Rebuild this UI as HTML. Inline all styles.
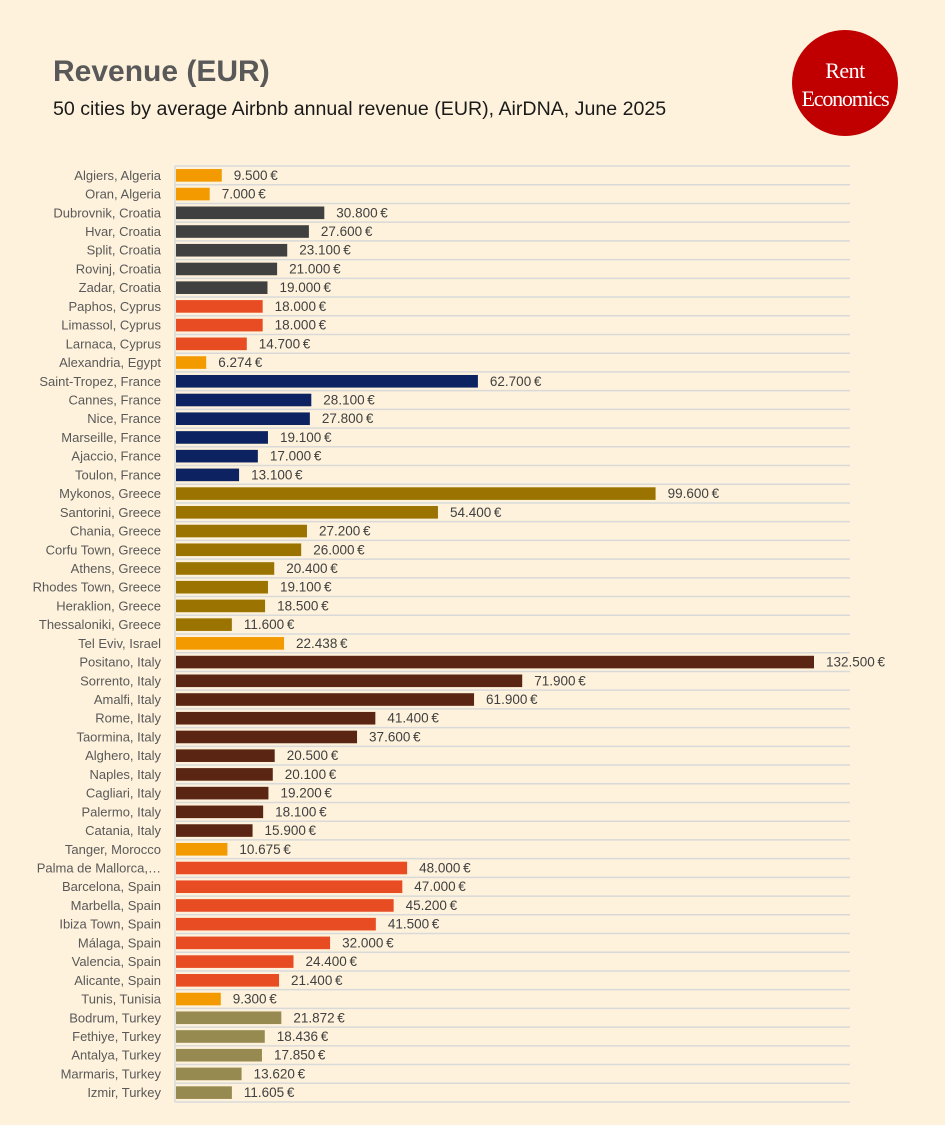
<!DOCTYPE html>
<html><head><meta charset="utf-8"><style>
body{margin:0;background:#FEF2DC;}
svg{display:block;font-family:"Liberation Sans",sans-serif;}
</style></head><body>
<svg id="chart" width="945" height="1125" viewBox="0 0 945 1125">
<rect width="945" height="1125" fill="#FEF2DC"/>
<text x="53" y="81" font-size="30" font-weight="bold" fill="#595959">Revenue (EUR)</text>
<text x="53" y="115" font-size="19.6" fill="#1a1a1a">50 cities by average Airbnb annual revenue (EUR), AirDNA, June 2025</text>
<g>
<circle cx="845" cy="83" r="53" fill="#C00000"/>
<text x="845" y="78" text-anchor="middle" font-family="Liberation Serif,serif" font-size="22" fill="#fff" letter-spacing="-0.5">Rent</text>
<text x="845" y="106" text-anchor="middle" font-family="Liberation Serif,serif" font-size="22" fill="#fff" letter-spacing="-1.2">Economics</text>
</g>
<g id="grid"></g><g id="bars"></g>
</svg>
<script>
const categories=["Algiers, Algeria","Oran, Algeria","Dubrovnik, Croatia","Hvar, Croatia","Split, Croatia","Rovinj, Croatia","Zadar, Croatia","Paphos, Cyprus","Limassol, Cyprus","Larnaca, Cyprus","Alexandria, Egypt","Saint-Tropez, France","Cannes, France","Nice, France","Marseille, France","Ajaccio, France","Toulon, France","Mykonos, Greece","Santorini, Greece","Chania, Greece","Corfu Town, Greece","Athens, Greece","Rhodes Town, Greece","Heraklion, Greece","Thessaloniki, Greece","Tel Eviv, Israel","Positano, Italy","Sorrento, Italy","Amalfi, Italy","Rome, Italy","Taormina, Italy","Alghero, Italy","Naples, Italy","Cagliari, Italy","Palermo, Italy","Catania, Italy","Tanger, Morocco","Palma de Mallorca,…","Barcelona, Spain","Marbella, Spain","Ibiza Town, Spain","Málaga, Spain","Valencia, Spain","Alicante, Spain","Tunis, Tunisia","Bodrum, Turkey","Fethiye, Turkey","Antalya, Turkey","Marmaris, Turkey","Izmir, Turkey"];
const values=[9500,7000,30800,27600,23100,21000,19000,18000,18000,14700,6274,62700,28100,27800,19100,17000,13100,99600,54400,27200,26000,20400,19100,18500,11600,22438,132500,71900,61900,41400,37600,20500,20100,19200,18100,15900,10675,48000,47000,45200,41500,32000,24400,21400,9300,21872,18436,17850,13620,11605];
const countries=["Algeria","Algeria","Croatia","Croatia","Croatia","Croatia","Croatia","Cyprus","Cyprus","Cyprus","Egypt","France","France","France","France","France","France","Greece","Greece","Greece","Greece","Greece","Greece","Greece","Greece","Israel","Italy","Italy","Italy","Italy","Italy","Italy","Italy","Italy","Italy","Italy","Morocco","Spain","Spain","Spain","Spain","Spain","Spain","Spain","Tunisia","Turkey","Turkey","Turkey","Turkey","Turkey"];
const colors={Algeria:"#F29A00",Croatia:"#404040",Cyprus:"#E84C22",Egypt:"#F29A00",France:"#0D2260",Greece:"#9A7300",Israel:"#F29A00",Italy:"#5A2613",Morocco:"#F29A00",Spain:"#E84C22",Tunisia:"#F29A00",Turkey:"#968A50"};
const NS="http://www.w3.org/2000/svg";
const x0=176,pxPer=(814-176)/132500,top0=166,pitch=18.72;
const xs=v=>x0+v*pxPer;
const ys=i=>top0+i*pitch;
const grid=document.getElementById('grid'),bars=document.getElementById('bars');
function mk(t,a,p){const e=document.createElementNS(NS,t);for(const k in a)e.setAttribute(k,a[k]);p.appendChild(e);return e;}
for(let i=0;i<=categories.length;i++){
 const l=mk('line',{x1:175,x2:850,y1:ys(i),y2:ys(i),stroke:"#D9D9D9","stroke-width":1.5},grid);
 
 
}
const ax=mk('line',{x1:175,x2:175,y1:ys(0),y2:ys(categories.length),stroke:"#D9D9D9","stroke-width":1.5},grid);


const fmt=v=>String(v).replace(/\B(?=(\d{3})+(?!\d))/g,".")+"\u2009€";
categories.forEach((c,i)=>{
 const yc=ys(i)+pitch/2;
 const lab=mk('text',{x:161,y:yc+4.5,"text-anchor":"end","font-size":13,fill:"#595959"},bars);
 lab.textContent=c;
 
 
 const r=mk('rect',{x:x0,y:yc-6.3,width:xs(values[i])-x0,height:12.6,fill:colors[countries[i]]},bars);
 
 
 const vl=mk('text',{x:xs(values[i])+12,y:yc+4.5,"font-size":13.5,fill:"#404040"},bars);
 vl.textContent=fmt(values[i]);
 
 
});
</script>
</body></html>
